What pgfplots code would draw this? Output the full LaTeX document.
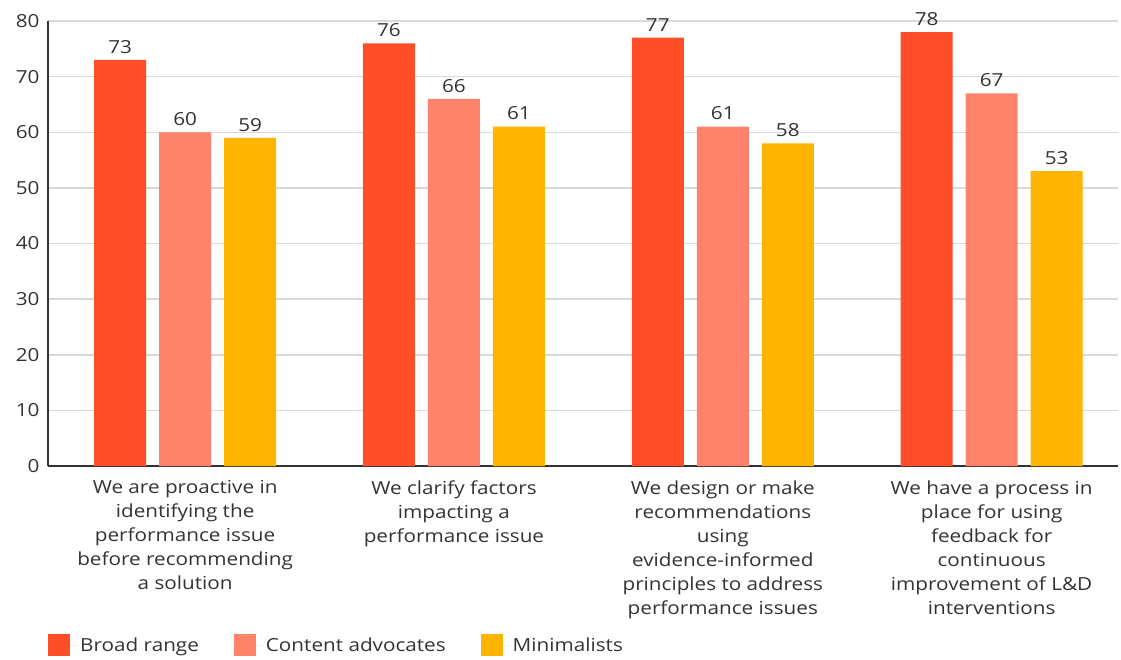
\documentclass[border=0pt]{standalone}
\usepackage{fontspec}
\setmainfont{Open Sans}[FakeStretch=1.15]
\usepackage{pgfplots}
\pgfplotsset{compat=1.18}
\definecolor{broad}{HTML}{FF4E28}
\definecolor{content}{HTML}{FF836B}
\definecolor{minim}{HTML}{FFB500}
\definecolor{txt}{HTML}{333333}
\definecolor{gridc}{HTML}{D9D9D9}
\begin{document}
\begin{tikzpicture}[font=\fontsize{18}{24}\selectfont]
\useasboundingbox (-48pt,-193pt) rectangle (1073pt,466pt);
\begin{axis}[
  at={(0,0)}, anchor=south west,
  scale only axis, width=1070pt, height=445pt,
  ybar=13pt, bar width=52pt,
  xmin=-0.51, xmax=3.47,
  ymin=0, ymax=80, ytick={0,10,...,80},
  xtick={0,1,2,3},
  xticklabels={
    {We are proactive in\\identifying the\\performance issue\\before recommending\\a solution},
    {We clarify factors\\impacting a\\performance issue},
    {We design or make\\recommendations\\using\\evidence-informed\\principles to address\\performance issues},
    {We have a process in\\place for using\\feedback for\\continuous\\improvement of L\&D\\interventions}},
  xticklabel style={align=center, text=txt, font=\fontsize{18}{24}\selectfont, yshift=-11pt},
  yticklabel style={text=txt, font=\fontsize{18}{24}\selectfont, xshift=-5pt},
  /pgf/number format/assume math mode=true,
  major tick length=0pt,
  axis x line*=bottom, axis y line*=left,
  axis line style={draw=txt, line width=2pt},
  ymajorgrids, grid style={draw=gridc, line width=1.5pt},
  nodes near coords,
  every node near coord/.append style={text=txt, font=\fontsize{18}{24}\selectfont, yshift=3pt},
  legend columns=-1,
  legend style={at={(axis description cs:0,-0.3775)}, anchor=north west,
    draw=none, inner sep=0pt, font=\fontsize{18}{24}\selectfont, text=txt,
    /tikz/every even column/.append style={column sep=33pt}},
  legend image code/.code={\path[#1] (0pt,-11pt) rectangle (22pt,11pt); \path (0pt,0pt) -- (30pt,0pt);},
]
\addplot[fill=broad, draw=none] coordinates {(0,73) (1,76) (2,77) (3,78)};
\addplot[fill=content, draw=none] coordinates {(0,60) (1,66) (2,61) (3,67)};
\addplot[fill=minim, draw=none] coordinates {(0,59) (1,61) (2,58) (3,53)};
\legend{Broad range, Content advocates, Minimalists}
\end{axis}
\end{tikzpicture}
\end{document}
